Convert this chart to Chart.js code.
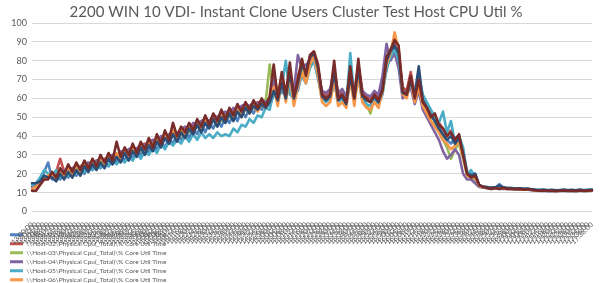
<!DOCTYPE html>
<html>
<head>
<meta charset="utf-8">
<script src="https://cdn.jsdelivr.net/npm/chart.js@4/dist/chart.umd.min.js"></script>
<style>
  html, body { margin:0; padding:0; background:#fff; }
  #wrap { width:600px; height:283px; position:relative; }
</style>
</head>
<body>
<div id="wrap"><canvas id="chart-cpu" width="600" height="283"></canvas></div>
<script>
'use strict';

// ── Data ──────────────────────────────────────────────────────────────────────
var chartTitle = '2200 WIN 10 VDI- Instant Clone Users Cluster Test Host CPU Util %';

var timeLabels = [
  '13:00:00','13:02:00','13:04:00','13:06:00','13:08:00','13:10:00','13:12:00','13:14:00','13:16:00','13:18:00',
  '13:20:00','13:22:00','13:24:00','13:26:00','13:28:00','13:30:00','13:32:00','13:34:00','13:36:00','13:38:00',
  '13:40:00','13:42:00','13:44:00','13:46:00','13:48:00','13:50:00','13:52:00','13:54:00','13:56:00','13:58:00',
  '14:00:00','14:02:00','14:04:00','14:06:00','14:08:00','14:10:00','14:12:00','14:14:00','14:16:00','14:18:00',
  '14:20:00','14:22:00','14:24:00','14:26:00','14:28:00','14:30:00','14:32:00','14:34:00','14:36:00','14:38:00',
  '14:40:00','14:42:00','14:44:00','14:46:00','14:48:00','14:50:00','14:52:00','14:54:00','14:56:00','14:58:00',
  '15:00:00','15:02:00','15:04:00','15:06:00','15:08:00','15:10:00','15:12:00','15:14:00','15:16:00','15:18:00',
  '15:20:00','15:22:00','15:24:00','15:26:00','15:28:00','15:30:00','15:32:00','15:34:00','15:36:00','15:38:00',
  '15:40:00','15:42:00','15:44:00','15:46:00','15:48:00','15:50:00','15:52:00','15:54:00','15:56:00','15:58:00',
  '16:00:00','16:02:00','16:04:00','16:06:00','16:08:00','16:10:00','16:12:00','16:14:00','16:16:00','16:18:00',
  '16:20:00','16:22:00','16:24:00','16:26:00','16:28:00','16:30:00','16:32:00','16:34:00','16:36:00','16:38:00',
  '16:40:00','16:42:00','16:44:00','16:46:00','16:48:00','16:50:00','16:52:00','16:54:00','16:56:00','16:58:00',
  '17:00:00','17:02:00','17:04:00','17:06:00','17:08:00','17:10:00','17:12:00','17:14:00','17:16:00','17:18:00',
  '17:20:00','17:22:00','17:24:00','17:26:00','17:28:00','17:30:00','17:32:00','17:34:00','17:36:00','17:38:00'
];

var hostNames = [
  '\\\\Host-01\\Physical Cpu(_Total)\\% Core Util Time',
  '\\\\Host-02\\Physical Cpu(_Total)\\% Core Util Time',
  '\\\\Host-03\\Physical Cpu(_Total)\\% Core Util Time',
  '\\\\Host-04\\Physical Cpu(_Total)\\% Core Util Time',
  '\\\\Host-05\\Physical Cpu(_Total)\\% Core Util Time',
  '\\\\Host-06\\Physical Cpu(_Total)\\% Core Util Time',
  '\\\\Host-07\\Physical Cpu(_Total)\\% Core Util Time',
  '\\\\Host-08\\Physical Cpu(_Total)\\% Core Util Time'
];

var host01 = [15,15,17,21,26,17,20,17,21,18, 22,19,23,20,24,22,26,23,27,24, 28,26,30,27,31,28,33,30,34,31,
  36,33,37,34,39,36,41,38,43,39, 44,41,46,42,47,44,49,45,50,47, 52,48,54,50,55,52,57,54,58,56,
  62,60,64,61,66,62,64,74,70,80, 82,75,63,61,64,70,61,63,60,68, 62,70,63,61,60,63,61,66,75,84,
  88,82,66,63,70,62,68,60,56,52, 48,45,40,38,36,39,40,32,21,20, 20,14,13,13,12.5,12.5,14.5,12.5,12.3,12.2,
  12,12.2,11.9,12,11.8,11.5,11.3,11.4,11.3,11.2, 11.3,11.2,11.4,11.3,11.2,11.3,11.4,11.2,11.3,11.4];

var host02 = [12,13,15,17,18,19,21,28,21,22, 23,22,24,25,24,26,27,26,28,27, 30,29,31,32,31,34,33,35,36,35,
  38,37,39,40,39,42,41,43,44,43, 46,45,47,48,47,50,49,51,52,51, 54,53,55,56,55,57,58,57,59,60,
  74,61,72,63,75,62,72,78,74,80, 83,76,63,62,64,76,62,64,60,74, 62,78,64,61,60,63,60,66,80,84,
  89,85,66,64,74,62,72,60,56,52, 50,47,44,41,43,37,40,31,20,19, 19,14,13,12.8,12.4,12.6,12.4,12.6,12.2,12.3,
  12,12.1,11.8,11.9,11.6,11.3,11.2,11.3,11.1,11.2, 11,11.1,11.3,11.1,11.2,11,11.3,11.1,11.2,11.3];

var host03 = [13,14,16,18,19,18,20,21,20,22, 21,23,22,24,25,24,26,27,26,28, 27,30,29,31,30,32,33,32,35,34,
  36,37,36,39,38,40,41,40,43,42, 44,45,44,47,46,48,49,48,51,50, 52,53,52,55,54,56,57,56,58,78,
  62,60,70,60,72,60,68,76,70,78, 80,72,61,59,61,72,59,60,57,70, 59,74,60,57,52,60,58,63,78,82,
  86,80,63,61,68,58,66,56,53,48, 46,42,38,34,28,33,36,28,19,18, 17,13.5,12.8,12.5,12.2,12.4,12.2,12.3,12,12.1,
  11.8,11.9,11.6,11.7,11.4,11.1,11,11.1,10.9,11, 10.8,10.9,11.1,10.9,11,10.8,11.1,10.9,11,11.1];

var host04 = [13,14,16,19,18,20,19,21,22,21, 23,24,23,25,26,25,27,28,27,29, 30,29,32,31,33,34,33,36,35,37,
  38,37,40,39,41,42,41,44,45,44, 47,46,48,49,48,51,50,52,53,52, 55,54,56,57,56,58,57,59,58,60,
  70,62,68,63,70,64,83,76,78,80, 81,74,64,63,65,74,63,65,61,72, 63,76,64,62,61,64,62,72,89,80,
  84,76,60,62,66,57,64,54,50,46, 42,38,32,28,30,33,30,20,17,17, 15,13,12.6,12.3,12,12.2,12,12.1,11.9,12,
  11.7,11.8,11.5,11.6,11.3,11,10.9,11,10.8,10.9, 10.8,10.9,11,10.8,10.9,10.8,11,10.8,10.9,11];

var host05 = [14,15,18,22,20,19,22,18,21,19, 22,20,23,21,24,22,25,23,26,24, 27,25,28,26,29,27,31,28,32,30,
  34,31,36,33,37,35,38,36,40,37, 41,38,42,39,41,39,42,40,41,40, 44,42,46,45,49,47,51,50,55,54,
  64,58,66,80,62,60,66,72,68,76, 80,70,60,58,60,68,58,60,57,84, 60,70,59,57,56,60,57,62,76,82,
  86,80,64,62,68,60,72,62,58,54, 50,47,53,42,48,36,40,34,20,22, 18,13.5,13,12.8,12.6,12.8,13.5,12.8,12.5,12.4,
  12.2,12.3,12,12.1,11.8,11.6,11.5,11.5,11.4,11.5, 11.3,11.4,11.5,11.4,11.5,11.3,11.5,11.4,11.5,11.6];

var host06 = [12,13,16,17,19,20,17,22,19,23, 20,25,21,26,23,27,24,29,25,30, 27,31,28,33,29,35,31,36,33,38,
  34,40,36,41,37,43,39,44,41,46, 42,47,44,49,45,50,47,51,48,52, 49,54,50,55,52,56,53,57,55,58,
  66,56,70,58,72,56,66,74,68,78, 82,72,58,56,58,70,56,58,55,70, 56,72,58,55,54,58,55,64,78,84,
  95,86,62,60,70,58,66,56,52,48, 45,42,38,36,33,35,37,29,19,18, 18,13.5,12.8,12.6,12.3,12.5,12.3,12.4,12.1,12.2,
  11.9,12,11.7,11.8,11.5,11.2,11.1,11.2,11,11.1, 10.9,11,11.2,11,11.1,10.9,11.2,11,11.1,11.2];

var host07 = [15,15,16,19,18,18,16,20,17,21, 18,22,19,24,21,25,22,26,23,28, 25,29,26,31,27,32,29,34,30,35,
  32,37,34,39,36,41,37,42,39,44, 41,46,42,47,44,49,45,50,47,52, 48,53,50,55,52,56,54,57,55,58,
  64,59,68,60,74,60,68,78,74,82, 84,76,61,59,61,74,59,61,57,72, 60,76,61,59,58,61,58,65,80,85,
  88,84,63,62,69,62,77,59,55,51, 48,44,41,38,40,36,39,31,20,19, 20,14,13.2,12.9,12.6,12.8,13.8,12.8,12.5,12.4,
  12.2,12.3,12,12.1,11.8,11.5,11.4,11.5,11.3,11.4, 11.2,11.3,11.5,11.3,11.4,11.2,11.5,11.3,11.4,11.5];

var host08 = [11,11,14,17,17,21,18,23,20,25, 21,26,22,27,23,28,24,30,26,31, 27,37,29,34,30,36,31,37,33,39,
  34,41,36,43,38,47,40,45,42,47, 43,49,45,51,46,52,48,54,49,55, 51,57,53,58,54,59,55,60,56,61,
  78,60,74,62,79,61,70,81,72,83, 85,78,62,60,62,80,60,62,58,77, 60,81,62,60,58,62,59,64,82,86,
  91,88,64,62,72,60,70,58,55,50, 52,46,44,40,42,38,41,30,20,18, 19,14,13,12.5,12,12.5,12,12.5,12,12,
  11.8,12,11.6,11.8,11.5,11.2,11,11.2,11,11.1, 10.9,11,11.2,11,11.1,10.9,11.2,11,11.1,11.2];

var hostSeries = [host01, host02, host03, host04, host05, host06, host07, host08];
var hostColors = ['#4F81BD','#C0504D','#9BBB59','#8064A2','#4BACC6','#F79646','#2C4D75','#772C2A'];

var yTicks = { min: 0, max: 100, step: 10 };

// ── Shared text style ─────────────────────────────────────────────────────────
var TXT = '#595959';
var FONT = 'Lato';

// legend sits over the x labels at the bottom-left, like the Excel export
var legendBottomLeft = {
  id: 'legendBottomLeft',
  afterLayout: function(chart) {
    var lg = chart.legend; if (!lg) return;
    lg.left = 7.5; lg.top = 229; lg.right = 320; lg.bottom = 420;
    lg.width = lg.right - lg.left; lg.height = lg.bottom - lg.top;
  }
};

var ctx = document.getElementById('chart-cpu');
new Chart(ctx, {
  type: 'line',
  data: {
    labels: timeLabels,
    datasets: hostSeries.map(function(d, i) {
      return {
        label: hostNames[i], data: d,
        borderColor: hostColors[i], backgroundColor: hostColors[i],
        borderWidth: 2.6, pointRadius: 0, tension: 0,
        borderJoinStyle: 'round', borderCapStyle: 'round',
        order: hostSeries.length - i
      };
    })
  },
  options: {
    responsive: false, animation: false, devicePixelRatio: 1,
    layout: { padding: { left: 0, right: 8, top: 0, bottom: 0 } },
    plugins: {
      title: { display: true, text: chartTitle, color: TXT, font: { family: FONT, size: 15, weight: 'normal' }, padding: { top: 3, bottom: 2 } },
      legend: {
        position: 'chartArea', align: 'start',
        labels: {
          color: TXT, font: { family: FONT, size: 6.5 }, boxWidth: 13, boxHeight: 3, padding: 2.5,
          sort: function(a, b) { return a.datasetIndex - b.datasetIndex; },
          generateLabels: function(chart) {
            return Chart.defaults.plugins.legend.labels.generateLabels(chart).map(function(l) { l.lineWidth = 0; return l; });
          }
        }
      },
      tooltip: { enabled: false }
    },
    scales: {
      x: {
        offset: false,
        grid: { display: false, drawTicks: false },
        border: { display: false },
        ticks: { autoSkip: false, minRotation: 45, maxRotation: 45, padding: 9, color: TXT, font: { family: FONT, size: 7 } },
        afterFit: function(s) { s.height = 71.5; s.paddingLeft = 0; s.paddingRight = 0; }
      },
      y: {
        min: yTicks.min, max: yTicks.max,
        grid: { color: '#d9d9d9', drawTicks: false },
        border: { display: false },
        ticks: { stepSize: yTicks.step, padding: 5, color: TXT, font: { family: FONT, size: 9 } },
        afterFit: function(s) { s.width = 32; }
      }
    }
  },
  plugins: [legendBottomLeft]
});
</script>
</body>
</html>
